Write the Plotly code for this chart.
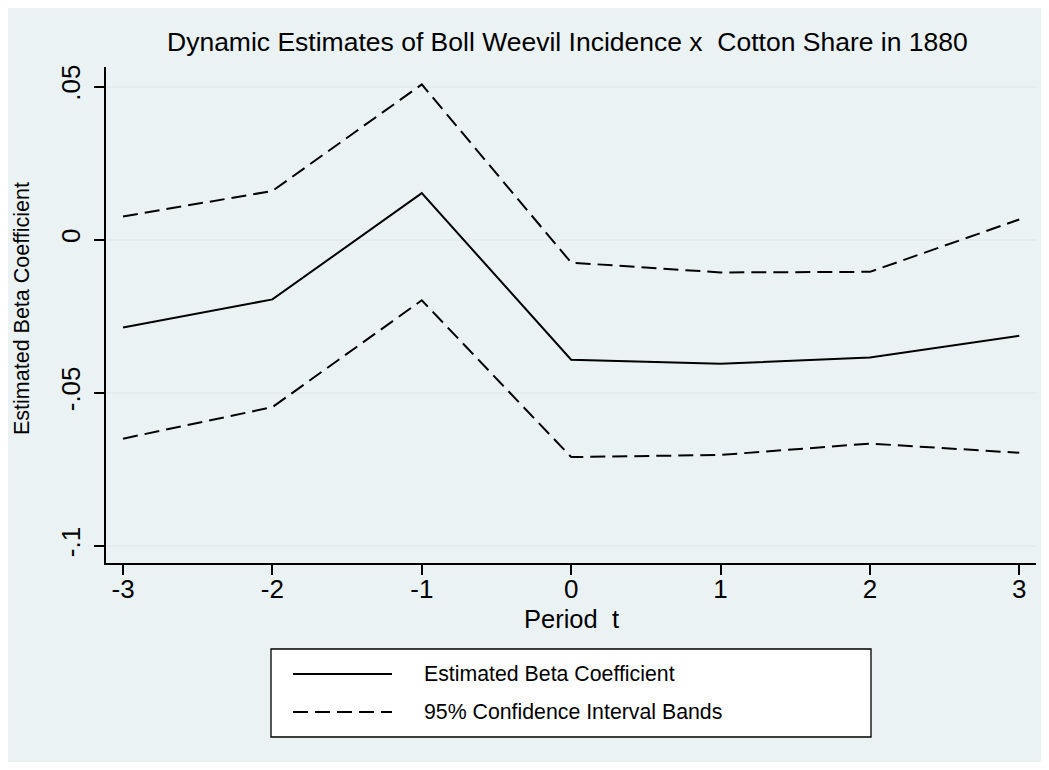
import plotly.graph_objects as go

# ---- data ----
periods = [-3, -2, -1, 0, 1, 2, 3]
beta = [-0.0287, -0.0195, 0.0152, -0.0392, -0.0405, -0.0385, -0.0314]
ci_upper = [0.0076, 0.0159, 0.0507, -0.0075, -0.0107, -0.0105, 0.0066]
ci_lower = [-0.0650, -0.0547, -0.0198, -0.0710, -0.0703, -0.0666, -0.0696]

y_tickvals = [0.05, 0, -0.05, -0.1]
y_ticktext = [".05", "0", "-.05", "-.1"]
x_tickvals = [-3, -2, -1, 0, 1, 2, 3]
x_ticktext = ["-3", "-2", "-1", "0", "1", "2", "3"]

title_text = "Dynamic Estimates of Boll Weevil Incidence x\u00a0 Cotton Share in 1880"
xtitle_text = "Period\u00a0 t"
ytitle_text = "Estimated Beta Coefficient"
legend_labels = ["Estimated Beta Coefficient", "95% Confidence Interval Bands"]

# ---- layout geometry (page pixels; page body has an 8px margin) ----
OFF = 8
W, H = 1049 - OFF, 770 - OFF
L, R, T, B = 106 - OFF, 1036 - OFF, 67 - OFF, 563 - OFF
BG = "#EAF2F3"
FONT = "Liberation Sans, Arial, sans-serif"
DASH = "15px,7px"


def px(x):
    return (x - OFF - L) / (R - L)


def py(y):
    return (B - (y - OFF)) / (B - T)


fig = go.Figure()
fig.add_trace(go.Scatter(x=periods, y=beta, mode="lines",
                         line=dict(color="black", width=2), name=legend_labels[0],
                         showlegend=False))
fig.add_trace(go.Scatter(x=periods, y=ci_upper, mode="lines",
                         line=dict(color="black", width=2, dash=DASH),
                         name=legend_labels[1], showlegend=False))
fig.add_trace(go.Scatter(x=periods, y=ci_lower, mode="lines",
                         line=dict(color="black", width=2, dash=DASH),
                         name=legend_labels[1], showlegend=False))

shapes = [
    # outer graph region
    dict(type="rect", xref="paper", yref="paper", x0=px(OFF), x1=px(1042),
         y0=py(762), y1=py(OFF), fillcolor=BG, line=dict(width=0), layer="below"),
    # legend box
    dict(type="rect", xref="paper", yref="paper", x0=px(271), x1=px(871),
         y0=py(737), y1=py(649), fillcolor="white",
         line=dict(color="black", width=1.3), layer="above"),
    dict(type="line", xref="paper", yref="paper", x0=px(293), x1=px(392),
         y0=py(674), y1=py(674), line=dict(color="black", width=2)),
    dict(type="line", xref="paper", yref="paper", x0=px(293), x1=px(392),
         y0=py(712), y1=py(712), line=dict(color="black", width=2, dash=DASH)),
]

annotations = [
    dict(text=title_text, xref="paper", yref="paper", x=px(567), y=py(42),
         xanchor="center", yanchor="middle", showarrow=False,
         font=dict(size=26.5, color="black", family=FONT)),
    dict(text=xtitle_text, xref="paper", yref="paper", x=px(571), y=py(619),
         xanchor="center", yanchor="middle", showarrow=False,
         font=dict(size=25.5, color="black", family=FONT)),
    dict(text=ytitle_text, xref="paper", yref="paper", x=px(22), y=py(309),
         xanchor="center", yanchor="middle", showarrow=False, textangle=-90,
         font=dict(size=21.5, color="black", family=FONT)),
    dict(text=legend_labels[0], xref="paper", yref="paper", x=px(422), y=py(674),
         xanchor="left", yanchor="middle", showarrow=False,
         font=dict(size=21.3, color="black", family=FONT)),
    dict(text=legend_labels[1], xref="paper", yref="paper", x=px(422), y=py(712),
         xanchor="left", yanchor="middle", showarrow=False,
         font=dict(size=21.3, color="black", family=FONT)),
]

fig.update_layout(
    width=W, height=H,
    margin=dict(l=L, r=W - R, t=T, b=H - B, pad=0),
    paper_bgcolor="white", plot_bgcolor="white",
    font=dict(family=FONT, color="black"),
    showlegend=False,
    shapes=shapes, annotations=annotations,
    xaxis=dict(range=[-3.114, 3.112], tickvals=x_tickvals, ticktext=x_ticktext,
               showgrid=False, zeroline=False, showline=True, linecolor="black",
               linewidth=1.5, ticks="outside", ticklen=10, tickwidth=1.5,
               tickcolor="black", ticklabelstandoff=-8,
               tickfont=dict(size=26, family=FONT)),
    yaxis=dict(range=[-0.1056, 0.0564], tickvals=y_tickvals, ticktext=y_ticktext,
               showgrid=True, gridcolor="#E3EDEF", gridwidth=2, zeroline=False,
               showline=True, linecolor="black", linewidth=1.5, ticks="outside",
               ticklen=10, tickwidth=1.5, tickcolor="black", tickangle=-90,
               ticklabelstandoff=4,
               tickfont=dict(size=26, family=FONT)),
)

fig.write_html("out.html")
